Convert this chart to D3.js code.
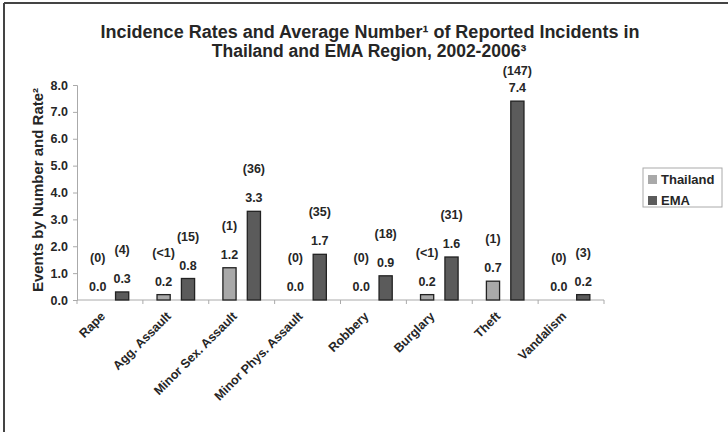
<!DOCTYPE html>
<html>
<head>
<meta charset="utf-8">
<script src="https://cdn.jsdelivr.net/npm/d3@7"></script>
<style>
    body { margin: 0; background: #fff; }
    svg text { font-family: "Liberation Sans", Arial, sans-serif; font-weight: bold; fill: #262626; }
</style>
</head>
<body>
<div id="chart"></div>
<script>
// data
const categories = ["Rape", "Agg. Assault", "Minor Sex. Assault", "Minor Phys. Assault",
    "Robbery", "Burglary", "Theft", "Vandalism"];
const seriesNames = ["Thailand", "EMA"];
const thailandRates = [0.0, 0.2, 1.2, 0.0, 0.0, 0.2, 0.7, 0.0];
const emaRates = [0.3, 0.8, 3.3, 1.7, 0.9, 1.6, 7.4, 0.2];
const thailandCounts = ["(0)", "(<1)", "(1)", "(0)", "(0)", "(<1)", "(1)", "(0)"];
const emaCounts = ["(4)", "(15)", "(36)", "(35)", "(18)", "(31)", "(147)", "(3)"];
const yTicks = [0, 1, 2, 3, 4, 5, 6, 7, 8];

const width = 728, height = 432;
const margin = {top: 85, right: 124, bottom: 132, left: 77};

const svg = d3.select("#chart").append("svg")
    .attr("width", width)
    .attr("height", height);

// frame (scan shows only top and left edges)
svg.append("line").attr("x1", 4).attr("x2", width).attr("y1", 3).attr("y2", 3)
    .attr("stroke", "#444").attr("stroke-width", 2);
svg.append("line").attr("x1", 4).attr("x2", 4).attr("y1", 3).attr("y2", height)
    .attr("stroke", "#444").attr("stroke-width", 2);

// title
const title = svg.append("text")
    .attr("text-anchor", "middle");
title.append("tspan").attr("x", 370).attr("y", 38).attr("font-size", 18)
    .text("Incidence Rates and Average Number\u00b9 of Reported Incidents in");
title.append("tspan").attr("x", 369).attr("y", 57).attr("font-size", 17.5)
    .text("Thailand and EMA Region, 2002-2006\u00b3");

// scales
const x0 = d3.scaleBand()
    .domain(categories)
    .range([margin.left, width - margin.right]);

const x1 = d3.scaleBand()
    .domain(seriesNames)
    .range([0, x0.bandwidth()])
    .paddingInner(0.46)
    .paddingOuter(0.58);

const y = d3.scaleLinear()
    .domain([0, 8])
    .range([height - margin.bottom, margin.top]);

const color = d3.scaleOrdinal().domain(seriesNames).range(["#a9a9a9", "#5b5b5b"]);

// y axis
const yAxis = svg.append("g")
    .attr("transform", `translate(${margin.left},0)`)
    .call(d3.axisLeft(y).tickValues(yTicks).tickFormat(d3.format(".1f")).tickSize(4).tickPadding(5));
yAxis.select(".domain").attr("stroke", "#aaa");
yAxis.selectAll(".tick line").attr("stroke", "#aaa");
yAxis.selectAll(".tick text").attr("font-size", 12.5).attr("fill", "#2a2a2a");

// x axis, ticks between categories
const xAxisG = svg.append("g")
    .attr("transform", `translate(0,${y(0)})`);
xAxisG.append("line")
    .attr("x1", x0.range()[0]).attr("x2", x0.range()[1])
    .attr("stroke", "#aaa");
xAxisG.selectAll(".sep")
    .data(categories.concat(["end"]))
    .enter().append("line")
    .attr("class", "sep")
    .attr("x1", (d, i) => x0.range()[0] + i * x0.step())
    .attr("x2", (d, i) => x0.range()[0] + i * x0.step())
    .attr("y1", 0).attr("y2", 4)
    .attr("stroke", "#aaa");
xAxisG.selectAll(".cat")
    .data(categories)
    .enter().append("text")
    .attr("class", "cat")
    .attr("font-size", 12.5)
    .attr("text-anchor", "end")
    .attr("transform", d => `translate(${x0(d) + x0.bandwidth() / 2 - 4},${17}) rotate(-45)`)
    .text(d => d);

// y axis title
svg.append("text")
    .attr("text-anchor", "middle")
    .attr("font-size", 15)
    .attr("transform", `translate(43,${190}) rotate(-90)`)
    .text("Events by Number and Rate\u00b2");

// bars
const rows = categories.map((c, i) => ({
    category: c,
    values: [
        {series: "Thailand", value: thailandRates[i], count: thailandCounts[i]},
        {series: "EMA", value: emaRates[i], count: emaCounts[i]}
    ]
}));

const groups = svg.selectAll(".group")
    .data(rows)
    .enter().append("g")
    .attr("class", "group")
    .attr("transform", d => `translate(${x0(d.category)},0)`);

groups.selectAll("rect")
    .data(d => d.values.filter(v => v.value > 0))
    .enter().append("rect")
    .attr("x", d => x1(d.series))
    .attr("y", d => y(d.value))
    .attr("width", x1.bandwidth())
    .attr("height", d => y(0) - y(d.value))
    .attr("fill", d => color(d.series))
    .attr("stroke", "#222")
    .attr("stroke-width", 1.3);

// value labels
groups.selectAll(".val")
    .data(d => d.values)
    .enter().append("text")
    .attr("class", "val")
    .attr("font-size", 12.5)
    .attr("text-anchor", "middle")
    .attr("x", d => x1(d.series) + x1.bandwidth() / 2)
    .attr("y", d => y(d.value) - 9)
    .text(d => d3.format(".1f")(d.value));

// count labels, kept clear of the title
groups.selectAll(".cnt")
    .data(d => d.values)
    .enter().append("text")
    .attr("class", "cnt")
    .attr("font-size", 12.5)
    .attr("text-anchor", "middle")
    .attr("x", d => x1(d.series) + x1.bandwidth() / 2)
    .attr("y", d => Math.max(y(d.value) - 38, 75))
    .text(d => d.count);

// legend
const legend = svg.append("g").attr("transform", "translate(643,168)");
legend.append("rect")
    .attr("width", 79).attr("height", 39)
    .attr("fill", "#fff").attr("stroke", "#aaa");
seriesNames.forEach((s, i) => {
    legend.append("rect")
        .attr("x", 5).attr("y", 7 + i * 21)
        .attr("width", 9).attr("height", 9)
        .attr("fill", color(s));
    legend.append("text")
        .attr("x", 18).attr("y", 16 + i * 21)
        .attr("font-size", 13)
        .text(s);
});
</script>
</body>
</html>
